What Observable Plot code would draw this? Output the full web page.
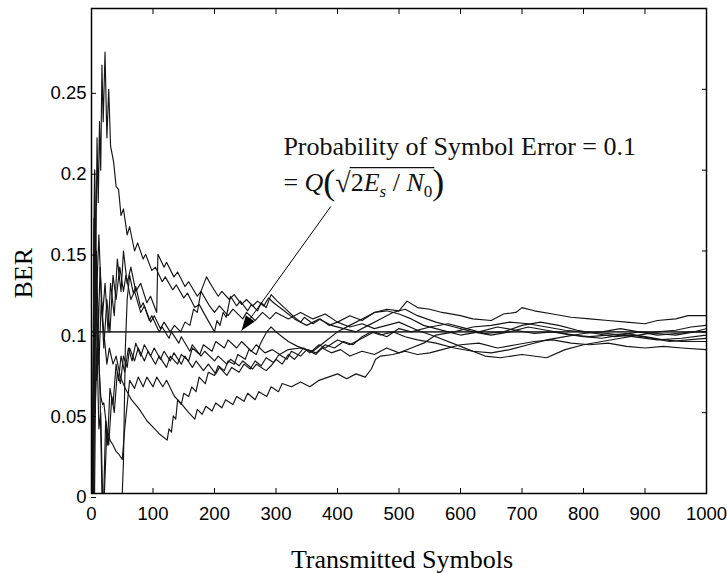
<!DOCTYPE html>
<html><head><meta charset="utf-8">
<script src="https://cdn.jsdelivr.net/npm/d3@7"></script>
<script src="https://cdn.jsdelivr.net/npm/@observablehq/plot@0.6"></script>
<style>html,body{margin:0;padding:0;background:#fff;} svg{display:block;}</style>
</head><body>
<div id="chart"></div>
<script>
// ---- axis ticks & labels ----
const xTicks = [0,100,200,300,400,500,600,700,800,900,1000];
const xTickLabels = ["0","100","200","300","400","500","600","700","800","900","1000"];
const yTicks = [0,0.05,0.1,0.15,0.2,0.25];
const yTickLabels = ["0","0.05","0.1","0.15","0.2","0.25"];
const xLabel = "Transmitted Symbols";
const yLabel = "BER";
const yLabelStart = 0.1206;
const referenceBER = 0.1;

// ---- running BER estimates (x = symbols, y = BER) ----
const s1 = [[1,0],[3,0.1],[5,0.2],[7,0.14],[9,0.22],[11,0.18],[13,0.23],[15,0.2],[17,0.265],[19,0.23],[22,0.273],[25,0.22],[28,0.25],[31,0.215],[36,0.205],[40,0.19],[44,0.188],[48,0.172],[52,0.176],[58,0.16],[62,0.165],[70,0.15],[75,0.155],[84,0.145],[88,0.148],[98,0.138],[104,0.14],[115,0.131],[120,0.134],[132,0.126],[138,0.129],[150,0.121],[156,0.124],[168,0.115],[175,0.117],[188,0.108],[200,0.1],[204,0.107],[209,0.104],[214,0.112],[219,0.109],[226,0.122],[236,0.116],[242,0.119],[254,0.113],[260,0.117],[270,0.113],[276,0.118],[284,0.115],[292,0.123],[302,0.119],[316,0.114],[330,0.109],[340,0.106],[346,0.109],[360,0.105],[372,0.108],[386,0.104],[400,0.106],[420,0.103],[440,0.105],[460,0.102],[480,0.104],[500,0.106],[530,0.101],[560,0.097],[600,0.091],[640,0.085],[665,0.084],[700,0.086],[740,0.084],[770,0.089],[800,0.092],[830,0.094],[860,0.096],[890,0.098],[920,0.1],[950,0.101],[975,0.103],[1000,0.104]];
const s2 = [[2,0],[4,0.17],[6,0.12],[8,0.15],[11,0.1],[14,0.14],[18,0.11],[22,0.13],[27,0.1],[31,0.13],[37,0.11],[42,0.145],[48,0.125],[52,0.15],[58,0.13],[64,0.14],[72,0.125],[80,0.13],[90,0.118],[96,0.122],[106,0.112],[108,0.148],[118,0.14],[122,0.143],[134,0.134],[140,0.137],[152,0.128],[158,0.131],[172,0.122],[178,0.125],[192,0.116],[200,0.112],[208,0.116],[222,0.11],[230,0.114],[246,0.108],[252,0.112],[266,0.107],[278,0.112],[290,0.108],[300,0.112],[320,0.108],[340,0.112],[360,0.108],[380,0.111],[400,0.106],[420,0.11],[440,0.107],[460,0.112],[480,0.114],[500,0.113],[513,0.119],[530,0.115],[550,0.114],[570,0.112],[600,0.11],[620,0.108],[650,0.107],[670,0.111],[690,0.112],[700,0.115],[720,0.113],[750,0.111],[780,0.109],[810,0.108],[840,0.107],[870,0.106],[900,0.105],[920,0.107],[950,0.108],[970,0.11],[1000,0.11]];
const s3 = [[5,0],[8,0.12],[12,0.08],[16,0.12],[20,0.09],[25,0.12],[30,0.1],[35,0.135],[40,0.12],[46,0.14],[52,0.125],[56,0.135],[64,0.12],[70,0.125],[80,0.112],[86,0.116],[96,0.106],[102,0.11],[112,0.102],[118,0.106],[128,0.1],[135,0.104],[145,0.1],[152,0.106],[160,0.104],[166,0.114],[172,0.112],[178,0.125],[187,0.134],[196,0.128],[206,0.122],[212,0.125],[224,0.12],[232,0.123],[244,0.117],[252,0.12],[262,0.116],[270,0.119],[280,0.116],[288,0.121],[296,0.118],[310,0.114],[330,0.108],[350,0.104],[370,0.108],[390,0.104],[410,0.102],[430,0.1],[450,0.104],[470,0.108],[490,0.112],[510,0.114],[530,0.11],[560,0.106],[590,0.103],[620,0.1],[650,0.098],[680,0.1],[710,0.103],[740,0.101],[770,0.099],[800,0.097],[830,0.096],[860,0.098],[890,0.1],[920,0.099],[950,0.098],[980,0.1],[1000,0.102]];
const s4 = [[1,0],[50,0],[52,0.02],[55,0.09],[58,0.12],[62,0.135],[68,0.124],[72,0.128],[80,0.115],[84,0.118],[94,0.107],[98,0.11],[110,0.1],[115,0.103],[126,0.096],[130,0.1],[142,0.093],[146,0.097],[160,0.088],[164,0.092],[178,0.085],[184,0.088],[200,0.082],[206,0.085],[220,0.08],[226,0.083],[240,0.079],[246,0.082],[262,0.077],[268,0.08],[284,0.076],[292,0.079],[300,0.083],[310,0.08],[320,0.086],[330,0.083],[345,0.09],[355,0.087],[370,0.092],[380,0.09],[400,0.095],[420,0.092],[440,0.096],[460,0.1],[480,0.097],[500,0.102],[520,0.1],[550,0.103],[580,0.105],[610,0.102],[640,0.099],[670,0.1],[700,0.104],[730,0.106],[760,0.104],[790,0.101],[820,0.099],[850,0.097],[880,0.098],[910,0.096],[940,0.094],[970,0.095],[1000,0.096]];
const s5 = [[2,0],[5,0.2],[8,0.12],[12,0.16],[16,0.12],[20,0.1],[25,0.08],[29,0.09],[35,0.08],[40,0.085],[47,0.072],[55,0.065],[65,0.058],[78,0.052],[90,0.045],[100,0.041],[110,0.037],[123,0.033],[126,0.04],[130,0.038],[133,0.048],[137,0.046],[140,0.058],[146,0.055],[150,0.062],[158,0.06],[163,0.066],[170,0.063],[175,0.072],[185,0.068],[190,0.075],[200,0.073],[206,0.079],[216,0.076],[222,0.082],[232,0.08],[238,0.086],[250,0.083],[256,0.089],[268,0.086],[275,0.093],[285,0.1],[292,0.103],[300,0.1],[310,0.097],[320,0.094],[335,0.091],[350,0.089],[365,0.086],[375,0.09],[390,0.087],[405,0.089],[420,0.085],[440,0.088],[460,0.086],[480,0.09],[500,0.087],[520,0.09],[540,0.093],[560,0.098],[590,0.1],[620,0.103],[650,0.104],[680,0.106],[710,0.105],[740,0.103],[770,0.101],[800,0.1],[840,0.099],[880,0.097],[920,0.095],[960,0.096],[1000,0.098]];
const s6 = [[3,0],[6,0.15],[9,0.1],[12,0.08],[15,0.06],[18,0.055],[20,0.056],[25,0.04],[30,0.033],[35,0.03],[40,0.026],[45,0.024],[50,0.021],[54,0.04],[58,0.055],[62,0.07],[70,0.065],[76,0.072],[84,0.066],[90,0.072],[100,0.066],[106,0.072],[116,0.066],[122,0.07],[135,0.06],[145,0.056],[158,0.05],[168,0.046],[172,0.052],[180,0.049],[186,0.054],[196,0.051],[202,0.056],[212,0.053],[218,0.058],[230,0.055],[236,0.06],[248,0.057],[254,0.062],[266,0.058],[272,0.063],[285,0.06],[292,0.066],[304,0.063],[310,0.068],[325,0.066],[340,0.069],[355,0.066],[370,0.07],[385,0.072],[400,0.074],[415,0.071],[430,0.074],[445,0.072],[455,0.077],[462,0.083],[470,0.085],[490,0.086],[510,0.088],[530,0.086],[550,0.087],[570,0.089],[600,0.092],[630,0.093],[660,0.09],[690,0.092],[720,0.094],[750,0.095],[780,0.093],[810,0.092],[840,0.093],[870,0.091],[900,0.09],[930,0.091],[960,0.09],[1000,0.089]];
const s7 = [[4,0],[6,0.14],[8,0.07],[11,0.1],[14,0.06],[17,0],[20,0],[23,0.045],[26,0.03],[30,0.065],[35,0.055],[40,0.08],[44,0.07],[48,0.085],[54,0.075],[60,0.09],[66,0.082],[72,0.093],[80,0.085],[86,0.092],[96,0.085],[102,0.09],[112,0.083],[118,0.088],[128,0.082],[134,0.087],[146,0.08],[152,0.085],[164,0.078],[170,0.082],[182,0.076],[190,0.08],[202,0.074],[208,0.078],[220,0.073],[228,0.078],[240,0.075],[248,0.08],[258,0.077],[266,0.082],[276,0.079],[284,0.084],[296,0.081],[305,0.086],[318,0.083],[325,0.088],[340,0.085],[350,0.089],[365,0.087],[380,0.092],[395,0.09],[410,0.094],[425,0.092],[440,0.097],[455,0.1],[470,0.098],[490,0.1],[510,0.097],[530,0.095],[560,0.093],[590,0.09],[620,0.088],[650,0.087],[680,0.089],[710,0.092],[740,0.095],[770,0.097],[800,0.099],[830,0.1],[860,0.102],[890,0.1],[920,0.098],[950,0.099],[980,0.1],[1000,0.1]];
const s8 = [[2,0],[4,0.1],[6,0.05],[9,0.09],[12,0.04],[15,0.05],[18,0],[21,0],[25,0.04],[28,0.03],[33,0.06],[37,0.05],[42,0.075],[47,0.068],[52,0.085],[58,0.078],[62,0.09],[70,0.082],[76,0.09],[86,0.082],[92,0.088],[104,0.08],[110,0.085],[122,0.078],[128,0.085],[140,0.08],[146,0.086],[158,0.082],[164,0.09],[176,0.086],[182,0.092],[196,0.088],[202,0.094],[216,0.09],[222,0.095],[236,0.09],[244,0.094],[260,0.088],[268,0.092],[282,0.087],[294,0.089],[306,0.086],[320,0.089],[340,0.09],[360,0.088],[380,0.094],[400,0.1],[420,0.104],[440,0.108],[460,0.112],[480,0.113],[500,0.111],[520,0.108],[540,0.104],[560,0.102],[580,0.1],[600,0.098],[630,0.1],[660,0.103],[690,0.101],[720,0.099],[750,0.1],[780,0.098],[810,0.097],[840,0.098],[870,0.099],[900,0.097],[930,0.095],[960,0.094],[1000,0.094]];
const seriesList = [s1, s2, s3, s4, s5, s6, s7, s8];

// ---- annotation ----
const annotationTitle = "Probability of Symbol Error = 0.1";
const formulaText = "= Q(√2Es / N0)";
const annotationLines = [
  {text: annotationTitle, x: 312, y: 0.2148},
  {text: formulaText, x: 312, y: 0.1925}
];
const arrowData = [{x1: 389, y1: 0.1775, x2: 244, y2: 0.1008}];

// ---- build table ----
const table = seriesList.flatMap((s, k) => s.map(([x, y]) => ({k, x, y})));

const serif = "Liberation Serif, Times New Roman, serif";
const arrowHead = {draw(ctx) { ctx.moveTo(0, 0); ctx.lineTo(-5.5, 15); ctx.lineTo(5.5, 15); ctx.closePath(); }};

const svg = Plot.plot({
  width: 727, height: 573,
  marginLeft: 91, marginRight: 21, marginTop: 8, marginBottom: 80,
  style: {fontFamily: "Liberation Sans, Arial, sans-serif", fontSize: "18.5px", background: "white", color: "black"},
  x: {domain: [0, 1000]},
  y: {domain: [0, 0.3]},
  marks: [
    Plot.ruleY([referenceBER], {stroke: "#3a3a3a", strokeWidth: 1.8}),
    Plot.line(table, {x: "x", y: "y", z: "k", stroke: "#151515", strokeWidth: 1.15, clip: true}),
    Plot.frame({stroke: "black", strokeWidth: 1.5}),
    Plot.axisX({ticks: xTicks, anchor: "bottom", tickSize: -5, tickPadding: 18, label: null, tickFormat: d => xTickLabels[xTicks.indexOf(d)]}),
    Plot.axisX({ticks: xTicks, anchor: "top", tickSize: -5, label: null, tickFormat: () => ""}),
    Plot.axisY({ticks: yTicks, anchor: "left", tickSize: -5, tickPadding: 10, dy: 4, label: null, tickFormat: d => yTickLabels[yTicks.indexOf(d)]}),
    Plot.axisY({ticks: yTicks, anchor: "right", tickSize: -5, label: null, tickFormat: () => ""}),
    Plot.text([xLabel], {frameAnchor: "bottom", text: d => d, dy: 65.7, dx: 3, fontFamily: serif, fontSize: 26, lineAnchor: "middle"}),
    Plot.text([yLabel], {frameAnchor: "left", y: () => yLabelStart, text: d => d, rotate: -90, dx: -68, textAnchor: "start", fontFamily: serif, fontSize: 26, lineAnchor: "middle"}),
    Plot.link(arrowData, {x1: "x1", y1: "y1", x2: "x2", y2: "y2", stroke: "black", strokeWidth: 1}),
    Plot.dot(arrowData, {x: "x2", y: "y2", symbol: arrowHead, rotate: 215.7, fill: "black", stroke: "none"}),
    Plot.text(annotationLines, {x: "x", y: "y", text: "text", textAnchor: "start", lineAnchor: "middle", fontFamily: serif, fontSize: 26, fill: "#111"})
  ]
});
document.getElementById("chart").append(svg);

// ---- rich formatting of the formula line ----
const fnode = Array.from(svg.querySelectorAll("text")).find(t => t.textContent === formulaText);
if (fnode) {
  fnode.textContent = "";
  const parts = [
    {t: "= "}, {t: "Q", it: 1}, {t: "(", fs: 36, sh: 3}, {t: "√", fs: 28, sh: 1},
    {t: "2"}, {t: "E", it: 1}, {t: "s", it: 1, fs: 17, sh: 6}, {t: " / "},
    {t: "N", it: 1}, {t: "0", fs: 17, sh: 6}, {t: ")", fs: 36, sh: 3}
  ];
  let cur = 0;
  for (const p of parts) {
    const ts = document.createElementNS("http://www.w3.org/2000/svg", "tspan");
    ts.textContent = p.t;
    if (p.it) ts.setAttribute("font-style", "italic");
    if (p.fs) ts.setAttribute("font-size", p.fs);
    const sh = p.sh || 0;
    if (sh !== cur) { ts.setAttribute("dy", sh - cur); cur = sh; }
    fnode.appendChild(ts);
  }
  try {
    const a = fnode.getStartPositionOfChar(5);
    const b = fnode.getEndPositionOfChar(12);
    const yTop = a.y - 23;
    const ln = document.createElementNS("http://www.w3.org/2000/svg", "line");
    ln.setAttribute("x1", a.x - 1); ln.setAttribute("x2", b.x + 2);
    ln.setAttribute("y1", yTop); ln.setAttribute("y2", yTop);
    ln.setAttribute("stroke", "#111"); ln.setAttribute("stroke-width", 1.2);
    const tr = fnode.getAttribute("transform");
    if (tr) ln.setAttribute("transform", tr);
    fnode.parentNode.appendChild(ln);
  } catch (e) {}
}
</script>
</body></html>
